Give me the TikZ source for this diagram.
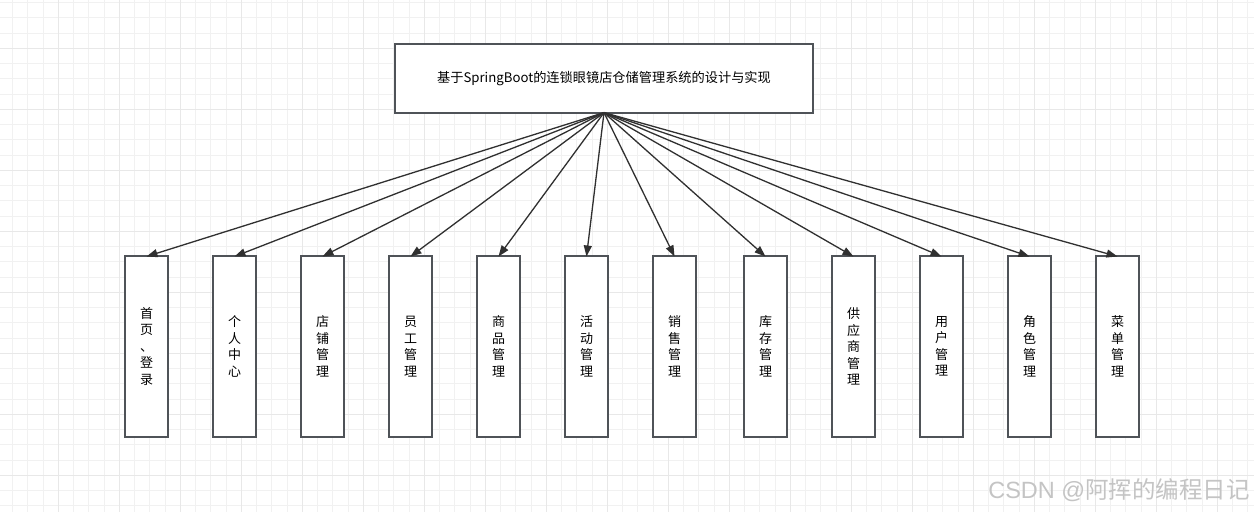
\documentclass[tikz,border=0pt]{standalone}
\usepackage{fontspec}
\setmainfont{Liberation Sans}
\newfontfamily\cjk{Noto Sans CJK SC}
\usetikzlibrary{arrows.meta}
\definecolor{gridthin}{HTML}{F1F1F1}
\definecolor{gridthick}{HTML}{E8E8E8}
\definecolor{boxc}{HTML}{4F5358}
\definecolor{arrc}{HTML}{303030}
\definecolor{wmc}{HTML}{C4C4C4}
\begin{document}
\begin{tikzpicture}[x=1pt,y=-1pt,
  gthin/.style={draw=gridthin, line width=1pt},
  gthick/.style={draw=gridthick, line width=1.6pt},
  topbox/.style={draw=boxc, line width=2pt, fill=white, minimum width=418pt, minimum height=68.5pt, inner sep=0pt, outer sep=0pt, font=\cjk\fontsize{13.2}{15}\selectfont},
  leaf/.style={draw=boxc, line width=2pt, fill=white, minimum width=43pt, minimum height=181pt, inner sep=0pt, outer sep=0pt, align=center, font=\cjk\fontsize{13}{16.5}\selectfont},
  arr/.style={draw=arrc, line width=1.3pt, -{Triangle[length=11pt,width=8pt]}},
  wmark/.style={text=wmc, inner sep=0pt, font=\fontsize{23.5}{23.5}\selectfont}
]
\useasboundingbox (0,0) rectangle (1254,512);
\fill[white] (0,0) rectangle (1254,512);
% grid
\foreach \i in {0,...,83} {\draw[gthin] ({-2.7+15.25*\i},0) -- ({-2.7+15.25*\i},512);}
\foreach \j in {0,...,34} {\draw[gthin] (0,{-12.7+15.25*\j}) -- (1254,{-12.7+15.25*\j});}
\foreach \i in {0,...,21} {\draw[gthick] ({-2.7+61*\i},0) -- ({-2.7+61*\i},512);}
\foreach \j in {0,...,9} {\draw[gthick] (0,{-12.7+61*\j}) -- (1254,{-12.7+61*\j});}

% top node
\node[topbox] (top) at (604,78.35) {基于SpringBoot的连锁眼镜店仓储管理系统的设计与实现};

% leaves
\node[leaf] (b1)  at (146.5,346.5) {首\\页\\、\\登\\录};
\node[leaf] (b2)  at (234.5,346.5) {个\\人\\中\\心};
\node[leaf] (b3)  at (322.5,346.5) {店\\铺\\管\\理};
\node[leaf] (b4)  at (410.5,346.5) {员\\工\\管\\理};
\node[leaf] (b5)  at (498.5,346.5) {商\\品\\管\\理};
\node[leaf] (b6)  at (586.5,346.5) {活\\动\\管\\理};
\node[leaf] (b7)  at (674.5,346.5) {销\\售\\管\\理};
\node[leaf] (b8)  at (765.5,346.5) {库\\存\\管\\理};
\node[leaf] (b9)  at (853.5,346.5) {供\\应\\商\\管\\理};
\node[leaf] (b10) at (941.5,346.5) {用\\户\\管\\理};
\node[leaf] (b11) at (1029.5,346.5) {角\\色\\管\\理};
\node[leaf] (b12) at (1117.5,346.5) {菜\\单\\管\\理};

\foreach \n in {1,...,12} {\draw[arr] (top.south) -- ([yshift=-0.5pt]b\n.north);}

% watermark
\node[wmark, anchor=east] (wm) at (1250,490) {CSDN @{\cjk 阿挥的编程日记}};
\end{tikzpicture}
\end{document}
